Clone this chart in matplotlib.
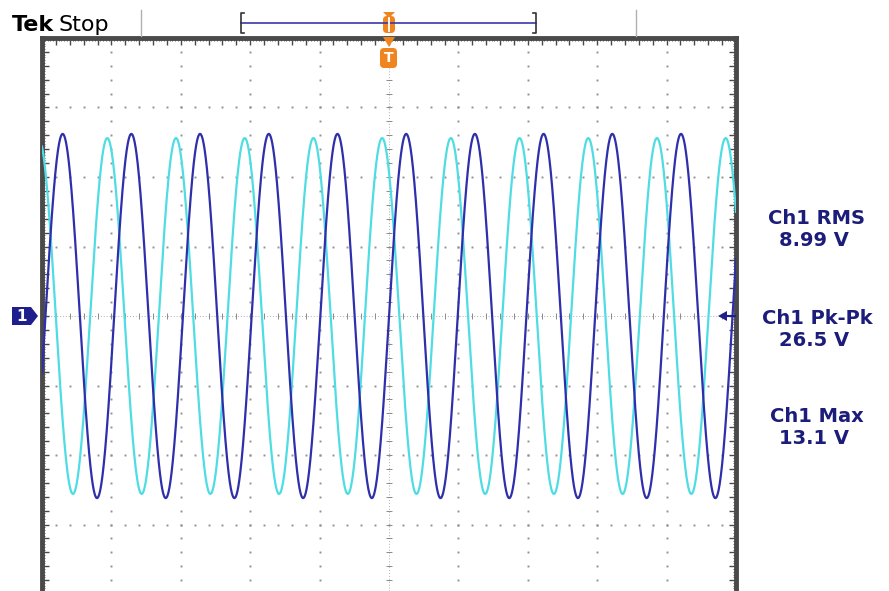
import numpy as np
import matplotlib.pyplot as plt
from matplotlib.patches import Polygon, FancyBboxPatch
from matplotlib.ticker import MultipleLocator

W, H = 889, 591

# Scope settings
volts_per_div = 5.0
period_div = 0.99          # one cycle is just under a division
ch1_amp = 13.1             # V
ch2_amp = 12.8             # V
ch1_phase_deg = 0.0        # ch1 triggers on the rising zero crossing
ch2_phase_deg = 126.0      # cyan trace leads the navy one

meas_labels = ["Ch1 RMS", "Ch1 Pk-Pk", "Ch1 Max"]
meas_values = ["8.99 V", "26.5 V", "13.1 V"]

navy = "#2f2fab"
cyan = "#4fdde3"
text_navy = "#1c1c7a"
orange = "#f0841e"
frame = "#4a4a4a"

# screen geometry in pixels
left_px, right_px = 42, 736
center_y_px = 316
div_px = 69.5
top_px = center_y_px - 4 * div_px

fig = plt.figure(figsize=(W / 100, H / 100), dpi=100)
fig.patch.set_facecolor("white")

ax = fig.add_axes([left_px / W, 0, (right_px - left_px) / W, (H - top_px) / H])
ax.set_xlim(-5, 5)
ax.set_ylim(-(H - center_y_px) / div_px * volts_per_div, 4 * volts_per_div)

for side in ["left", "top", "right"]:
    ax.spines[side].set_linewidth(3.5)
    ax.spines[side].set_color(frame)
ax.spines["bottom"].set_visible(False)

ax.xaxis.set_major_locator(MultipleLocator(0.2))
ax.xaxis.set_minor_locator(MultipleLocator(0.04))
ax.yaxis.set_major_locator(MultipleLocator(1.0))
ax.yaxis.set_minor_locator(MultipleLocator(0.2))
ax.tick_params(which="both", direction="in", color=frame, top=True, bottom=False,
               left=True, right=True, labelleft=False, labelbottom=False)
ax.tick_params(which="major", length=5, width=1)
ax.tick_params(which="minor", length=2, width=0.6)

# graticule dots
dot_kw = dict(linestyle="none", marker="s", markersize=1.4, mew=0,
              color="#929292", zorder=1)
ys = np.arange(-20, 20.01, 1.0)
xs = np.arange(-5, 5.01, 0.2)
for gx in [-4, -3, -2, -1, 1, 2, 3, 4]:
    ax.plot(np.full_like(ys, gx), ys, **dot_kw)
for gy in [-15, -10, -5, 5, 10, 15]:
    ax.plot(xs, np.full_like(xs, gy), **dot_kw)

# centre cross with tick marks
ax.axvline(0, color="#b0b0b0", lw=0.7, linestyle=(0, (1, 2)), zorder=1)
ax.axhline(0, color="#b0b0b0", lw=0.7, linestyle=(0, (1, 2)), zorder=1)
ax.plot(np.zeros_like(ys), ys, linestyle="none", marker="_", markersize=5,
        color="#8a8a8a", mew=0.7, zorder=1)
ax.plot(xs, np.zeros_like(xs), linestyle="none", marker="|", markersize=5,
        color="#8a8a8a", mew=0.7, zorder=1)

# traces
t = np.linspace(-5, 5, 5000)
ch1 = ch1_amp * np.sin(2 * np.pi * t / period_div + np.radians(ch1_phase_deg))
ch2 = ch2_amp * np.sin(2 * np.pi * t / period_div + np.radians(ch2_phase_deg))
ax.plot(t, ch2, color=cyan, lw=1.6, zorder=3)
ax.plot(t, ch1, color=navy, lw=1.6, zorder=4)

# overlay in pixel coordinates for the screen furniture
ov = fig.add_axes([0, 0, 1, 1], facecolor="none")
ov.set_xlim(0, W)
ov.set_ylim(H, 0)
ov.axis("off")

ov.text(12, 31, "Tek", fontsize=16, fontweight="heavy", color="black", va="baseline")
ov.text(58, 31, "Stop", fontsize=16, color="black", va="baseline")

for sx in [141, 636]:
    ov.plot([sx, sx], [10, 36], color="#b0b0b0", lw=1)

# record bracket
ov.plot([241, 536], [23, 23], color="#3a3aa8", lw=1.2)
for bx, d in [(241, 3), (536, -3)]:
    ov.plot([bx + d, bx, bx, bx + d], [13, 13, 33, 33], color="#333333", lw=1.2)

# trigger position markers
ov.add_patch(FancyBboxPatch((383, 16), 12, 17, boxstyle="round,pad=0,rounding_size=4",
                            fc=orange, ec="none"))
ov.add_patch(Polygon([(383, 12), (395, 12), (389, 18)], closed=True, fc=orange, ec="none"))
ov.plot([389, 389], [18, 31], color="white", lw=1.3)
ov.add_patch(Polygon([(383, 37), (395, 37), (389, 47)], closed=True, fc=orange, ec="none"))
ov.add_patch(FancyBboxPatch((380, 48), 17, 20, boxstyle="round,pad=0,rounding_size=4",
                            fc=orange, ec="none"))
ov.text(388.5, 58.5, "T", color="white", fontsize=10, fontweight="bold",
        ha="center", va="center")

# channel 1 ground marker
ov.add_patch(Polygon([(12, 307), (31, 307), (38, 316), (31, 325), (12, 325)],
                     closed=True, fc="#1e1e8c", ec="none"))
ov.text(22, 316.5, "1", color="white", fontsize=11, fontweight="bold",
        ha="center", va="center")

# trigger level marker
ov.add_patch(Polygon([(718, 316), (727, 311), (727, 321)], closed=True, fc="#1e1e8c", ec="none"))
ov.plot([726, 735], [316, 316], color="#1e1e8c", lw=1.5)

# measurement readouts
label_y = [218, 318, 416]
for lab, val, yy in zip(meas_labels, meas_values, label_y):
    ov.text(817, yy, lab, color=text_navy, fontsize=14, fontweight="bold",
            ha="center", va="center")
    ov.text(814, yy + 22, val, color=text_navy, fontsize=14, fontweight="bold",
            ha="center", va="center")

fig.savefig("out.png", dpi=100)
